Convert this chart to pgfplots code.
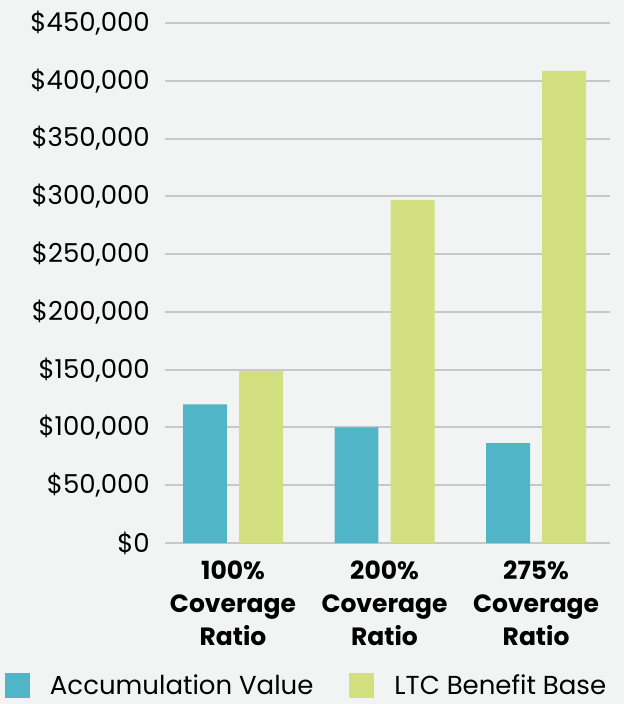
\documentclass[border=0pt]{standalone}
\usepackage{pgfplots}
\pgfplotsset{compat=1.18}
\usepackage{fontspec}
\setmainfont{Poppins}
\definecolor{bgc}{HTML}{F2F4F3}
\definecolor{teal}{HTML}{4FB5C7}
\definecolor{lgreen}{HTML}{D3E07F}
\definecolor{gridc}{HTML}{C8C8C8}
\begin{document}
\begin{tikzpicture}[x=1pt,y=1pt]
\useasboundingbox (0,0) rectangle (624,704);
\fill[bgc] (0,0) rectangle (624,704);
\begin{axis}[
  at={(165pt,161pt)}, anchor=south west,
  scale only axis, width=445pt, height=520pt,
  xmin=-0.449, xmax=2.488,
  ymin=0, ymax=450000,
  ytick={0,50000,...,450000},
  xtick={0,1,2},
  xticklabels={100\%\\Coverage\\Ratio, 200\%\\Coverage\\Ratio, 275\%\\Coverage\\Ratio},
  xticklabel style={align=center, font=\fontsize{25}{33}\selectfont\bfseries, inner sep=0pt, anchor=north, yshift=-18pt},
  yticklabel style={font=\fontsize{26}{30}\selectfont, inner sep=0pt, anchor=east, xshift=-15pt},
  scaled ticks=false,
  yticklabel={\$\pgfmathprintnumber[assume math mode=true,fixed,1000 sep={,}]{\tick}},
  ymajorgrids, major grid style={draw=gridc, line width=2pt},
  axis line style={draw=none},
  major tick length=0pt,
  ybar, bar width=0.29,
  legend columns=2,
  legend style={at={(-0.3596,-0.274)}, anchor=west, draw=none, fill=none,
    inner sep=0pt, outer sep=0pt,
    font=\fontsize{26}{30}\selectfont,
    nodes={inner sep=0pt},
    /tikz/every odd column/.append style={column sep=20pt},
    /tikz/every even column/.append style={column sep=36pt}},
  legend cell align=left,
  legend image code/.code={\fill[#1] (0pt,-12.5pt) rectangle (25pt,12.5pt);},
]
\addplot[fill=teal, draw=none, bar shift=-0.185] coordinates {(0,120000) (1,100000) (2,86500)};
\addplot[fill=lgreen, draw=none, bar shift=0.185] coordinates {(0,149000) (1,297000) (2,408500)};
\legend{Accumulation Value, LTC Benefit Base}
\end{axis}
\end{tikzpicture}
\end{document}
